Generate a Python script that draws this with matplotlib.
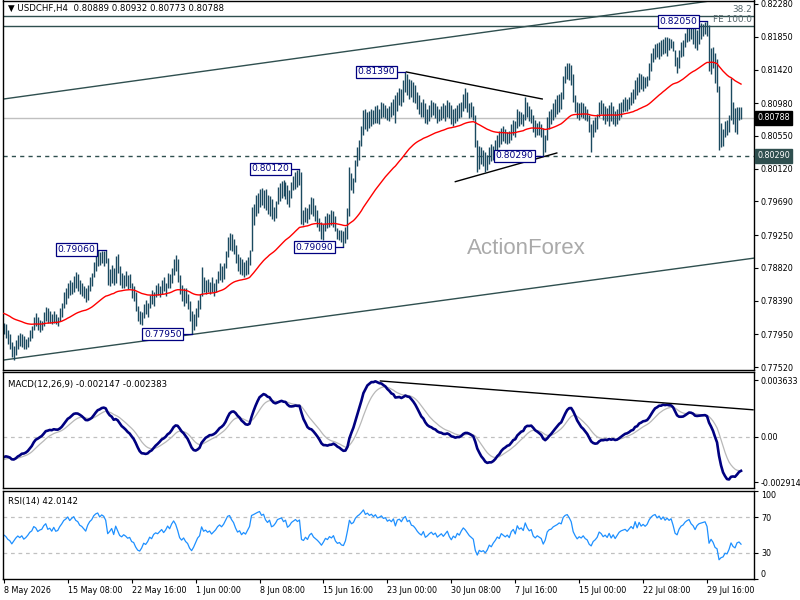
import numpy as np
import matplotlib
matplotlib.use('Agg')
import matplotlib.pyplot as plt

plt.rcParams['font.family'] = ['DejaVu Sans']
plt.rcParams['font.size'] = 6

# H4 bars, prices in 1/10000 (pips)
highs = [
    7810, 7808, 7800, 7795, 7785, 7780, 7788, 7794, 7797, 7795,
    7793, 7789, 7792, 7801, 7806, 7818, 7823, 7818, 7814, 7812,
    7824, 7831, 7829, 7825, 7822, 7826, 7821, 7818, 7830, 7836,
    7850, 7855, 7862, 7866, 7864, 7871, 7877, 7874, 7866, 7862,
    7858, 7855, 7860, 7870, 7875, 7890, 7899, 7905, 7903, 7904,
    7904, 7906, 7895, 7880, 7886, 7882, 7898, 7900, 7884, 7875,
    7872, 7878, 7872, 7874, 7862, 7858, 7850, 7832, 7826, 7824,
    7834, 7840, 7836, 7846, 7853, 7850, 7860, 7862, 7858, 7866,
    7870, 7862, 7875, 7874, 7882, 7893, 7899, 7894, 7872, 7860,
    7855, 7856, 7848, 7838, 7826, 7822, 7830, 7840, 7848, 7883,
    7870, 7866, 7868, 7864, 7870, 7862, 7868, 7878, 7889, 7884,
    7888, 7904, 7922, 7928, 7926, 7920, 7912, 7900, 7896, 7894,
    7890, 7892, 7896, 7906, 7962, 7966, 7978, 7980, 7986, 7987,
    7984, 7985, 7978, 7976, 7972, 7962, 7970, 7988, 7993, 7996,
    7997, 7994, 7990, 7984, 7994, 8002, 8008, 8010, 8012, 8008,
    7958, 7962, 7960, 7966, 7975, 7974, 7964, 7958, 7948, 7942,
    7940, 7950, 7954, 7952, 7958, 7956, 7950, 7934, 7932, 7932,
    7930, 7936, 7960, 8014, 8006, 8000, 8024, 8040, 8050, 8068,
    8089, 8090, 8086, 8088, 8090, 8089, 8094, 8096, 8090, 8100,
    8098, 8096, 8092, 8094, 8100, 8104, 8108, 8112, 8118, 8116,
    8128, 8139, 8136, 8130, 8128, 8126, 8122, 8112, 8108, 8100,
    8104, 8098, 8090, 8096, 8102, 8100, 8098, 8094, 8090, 8094,
    8098, 8096, 8102, 8100, 8096, 8090, 8092, 8096, 8098, 8100,
    8110, 8118, 8112, 8098, 8100, 8094, 8082, 8050, 8042, 8040,
    8036, 8034, 8030, 8040, 8044, 8042, 8050, 8056, 8062, 8066,
    8068, 8064, 8060, 8062, 8070, 8076, 8074, 8090, 8088, 8086,
    8084, 8106, 8100, 8094, 8090, 8082, 8076, 8072, 8074, 8070,
    8066, 8056, 8080, 8088, 8090, 8098, 8104, 8108, 8110, 8112,
    8134, 8146, 8151, 8150, 8148, 8136, 8108, 8100, 8098, 8100,
    8098, 8094, 8090, 8082, 8070, 8076, 8080, 8084, 8100, 8102,
    8098, 8094, 8092, 8096, 8100, 8094, 8088, 8090, 8098, 8100,
    8104, 8106, 8104, 8106, 8112, 8116, 8128, 8132, 8138, 8136,
    8134, 8132, 8134, 8150, 8164, 8170, 8176, 8177, 8178, 8181,
    8182, 8185, 8184, 8183, 8182, 8180, 8168, 8158, 8168, 8178,
    8181, 8190, 8198, 8200, 8203, 8198, 8196, 8194, 8200, 8203,
    8202, 8204, 8205, 8200, 8170, 8172, 8164, 8156, 8120, 8072,
    8064, 8074, 8076, 8082, 8131, 8100, 8092, 8093, 8093, 8093,
]
lows = [
    7795, 7790, 7782, 7775, 7765, 7761, 7768, 7776, 7780, 7778,
    7776, 7775, 7778, 7786, 7790, 7800, 7806, 7800, 7798, 7800,
    7806, 7812, 7810, 7810, 7808, 7810, 7809, 7806, 7812, 7818,
    7830, 7835, 7842, 7846, 7848, 7850, 7856, 7852, 7848, 7845,
    7842, 7837, 7840, 7852, 7858, 7870, 7878, 7885, 7886, 7888,
    7885, 7888, 7860, 7858, 7862, 7860, 7862, 7875, 7860, 7856,
    7855, 7858, 7854, 7855, 7842, 7838, 7826, 7812, 7808, 7807,
    7816, 7822, 7818, 7830, 7834, 7832, 7844, 7846, 7844, 7848,
    7852, 7845, 7855, 7856, 7862, 7872, 7878, 7864, 7848, 7838,
    7832, 7836, 7828, 7812, 7795, 7800, 7806, 7818, 7828, 7845,
    7850, 7848, 7850, 7848, 7850, 7845, 7850, 7862, 7866, 7864,
    7868, 7882, 7896, 7905, 7904, 7900, 7888, 7878, 7874, 7872,
    7870, 7872, 7874, 7886, 7904, 7938, 7950, 7954, 7962, 7964,
    7960, 7958, 7952, 7950, 7946, 7944, 7948, 7966, 7970, 7974,
    7976, 7972, 7966, 7962, 7974, 7984, 7986, 7988, 7990, 7940,
    7938, 7942, 7941, 7946, 7952, 7950, 7944, 7936, 7930, 7920,
    7919, 7930, 7934, 7936, 7938, 7936, 7930, 7920, 7919, 7916,
    7909, 7914, 7920, 7950, 7984, 7980, 7994, 8016, 8024, 8042,
    8056, 8064, 8062, 8066, 8068, 8070, 8072, 8072, 8070, 8078,
    8080, 8078, 8076, 8074, 8080, 8082, 8072, 8088, 8096, 8094,
    8100, 8112, 8108, 8104, 8106, 8100, 8098, 8090, 8084, 8080,
    8080, 8072, 8070, 8074, 8080, 8082, 8078, 8072, 8074, 8076,
    8078, 8074, 8080, 8078, 8070, 8068, 8072, 8074, 8078, 8080,
    8088, 8092, 8086, 8078, 8080, 8076, 8040, 8008, 8012, 8018,
    8016, 8008, 8010, 8018, 8022, 8024, 8030, 8034, 8040, 8044,
    8048, 8046, 8044, 8046, 8050, 8056, 8054, 8066, 8068, 8070,
    8068, 8076, 8080, 8074, 8072, 8060, 8054, 8056, 8056, 8054,
    8029, 8034, 8050, 8064, 8070, 8076, 8080, 8084, 8086, 8090,
    8104, 8124, 8130, 8128, 8122, 8100, 8086, 8078, 8076, 8080,
    8078, 8076, 8074, 8060, 8034, 8054, 8060, 8064, 8080, 8084,
    8076, 8070, 8074, 8068, 8074, 8070, 8068, 8070, 8076, 8080,
    8086, 8088, 8088, 8090, 8096, 8098, 8104, 8108, 8112, 8116,
    8114, 8118, 8120, 8128, 8140, 8152, 8156, 8158, 8156, 8160,
    8162, 8164, 8160, 8168, 8170, 8166, 8146, 8138, 8144, 8158,
    8160, 8172, 8178, 8180, 8182, 8176, 8170, 8168, 8176, 8182,
    8186, 8188, 8186, 8140, 8136, 8144, 8124, 8112, 8037, 8040,
    8042, 8054, 8056, 8060, 8076, 8070, 8060, 8058, 8076, 8077,
]
closes = [
    7800, 7795, 7785, 7780, 7768, 7776, 7784, 7790, 7785, 7790,
    7780, 7784, 7790, 7798, 7802, 7815, 7812, 7804, 7808, 7810,
    7820, 7826, 7815, 7818, 7812, 7822, 7814, 7816, 7826, 7834,
    7845, 7850, 7858, 7852, 7860, 7866, 7860, 7858, 7852, 7850,
    7846, 7842, 7856, 7866, 7872, 7886, 7894, 7898, 7892, 7900,
    7898, 7892, 7866, 7872, 7880, 7866, 7892, 7880, 7866, 7862,
    7868, 7864, 7858, 7860, 7848, 7845, 7830, 7818, 7814, 7820,
    7830, 7826, 7832, 7842, 7838, 7848, 7852, 7850, 7855, 7860,
    7854, 7860, 7870, 7865, 7878, 7888, 7882, 7870, 7852, 7845,
    7850, 7840, 7834, 7818, 7808, 7815, 7825, 7836, 7842, 7870,
    7858, 7862, 7856, 7860, 7852, 7858, 7864, 7874, 7880, 7876,
    7884, 7898, 7916, 7920, 7912, 7906, 7894, 7884, 7888, 7878,
    7884, 7880, 7890, 7902, 7952, 7958, 7965, 7972, 7978, 7970,
    7976, 7964, 7958, 7968, 7952, 7956, 7966, 7982, 7986, 7990,
    7982, 7988, 7972, 7978, 7990, 7996, 8002, 7998, 8004, 7950,
    7946, 7956, 7948, 7962, 7968, 7956, 7950, 7944, 7936, 7926,
    7934, 7944, 7940, 7948, 7944, 7950, 7934, 7926, 7928, 7920,
    7918, 7928, 7954, 8000, 7990, 7996, 8020, 8034, 8044, 8060,
    8082, 8070, 8080, 8074, 8082, 8076, 8088, 8080, 8084, 8092,
    8086, 8090, 8082, 8088, 8084, 8096, 8080, 8106, 8110, 8104,
    8122, 8130, 8118, 8124, 8112, 8110, 8104, 8096, 8090, 8086,
    8096, 8080, 8084, 8090, 8094, 8088, 8092, 8082, 8086, 8090,
    8084, 8090, 8096, 8084, 8076, 8084, 8080, 8090, 8086, 8096,
    8104, 8100, 8094, 8088, 8084, 8080, 8046, 8024, 8034, 8028,
    8030, 8020, 8026, 8036, 8030, 8038, 8044, 8052, 8048, 8060,
    8056, 8052, 8056, 8050, 8064, 8070, 8060, 8084, 8076, 8080,
    8074, 8100, 8088, 8080, 8084, 8066, 8060, 8066, 8062, 8058,
    8040, 8050, 8074, 8082, 8084, 8092, 8096, 8100, 8106, 8104,
    8130, 8140, 8144, 8138, 8130, 8106, 8094, 8084, 8090, 8086,
    8092, 8084, 8080, 8066, 8060, 8070, 8074, 8080, 8094, 8090,
    8082, 8086, 8080, 8090, 8078, 8086, 8076, 8084, 8092, 8096,
    8098, 8100, 8096, 8102, 8108, 8104, 8124, 8112, 8130, 8122,
    8128, 8124, 8130, 8146, 8158, 8166, 8170, 8164, 8172, 8166,
    8176, 8170, 8178, 8174, 8180, 8168, 8150, 8146, 8162, 8172,
    8176, 8186, 8192, 8196, 8188, 8184, 8176, 8188, 8194, 8196,
    8198, 8200, 8192, 8150, 8160, 8150, 8130, 8124, 8050, 8056,
    8058, 8068, 8064, 8076, 8096, 8078, 8070, 8086, 8089, 8079,
]

# indicator values at the left edge
ma_start = 0.7823
ema12_start = 0.7801
ema26_start = 0.7815
signal_start = -0.0015
rsi_gain_start = 0.0006
rsi_loss_start = 0.0006

price_ticks = [0.82280, 0.81850, 0.81420, 0.80980, 0.80550, 0.80120,
               0.79690, 0.79250, 0.78820, 0.78390, 0.77950, 0.77520]
date_labels = ["8 May 2026", "15 May 08:00", "22 May 16:00", "1 Jun 00:00",
               "8 Jun 08:00", "15 Jun 16:00", "23 Jun 00:00", "30 Jun 08:00",
               "7 Jul 16:00", "15 Jul 00:00", "22 Jul 08:00", "29 Jul 16:00"]
date_bars = [0, 32, 64, 96, 128, 160, 192, 224, 256, 288, 320, 352]

# swing labels (bar, price)
swing_labels = [(51, 0.79060), (94, 0.77950), (148, 0.80120), (170, 0.79090),
                (201, 0.81390), (270, 0.80290), (352, 0.82050)]
channel_upper = [(0, 0.81034), (348, 0.82299)]
channel_lower = [(0, 0.77612), (375, 0.78946)]
tri_upper = [(201.5, 0.81388), (269.5, 0.81034)]
tri_lower = [(226, 0.79950), (276.8, 0.80326)]
fib_382 = 0.82122
fe_100 = 0.81991
support = 0.80290
last_price = 0.80788
macd_trend = [(188.5, 0.003572), (375, 0.001726)]
macd_ticks = [0.003633, 0.0, -0.002914]


def ema(values, n, seed):
    a = 2.0 / (n + 1)
    out = []
    prev = seed
    for v in values:
        prev = prev + a * (v - prev)
        out.append(prev)
    return np.array(out)


def rsi(values, n, g0, l0):
    out = []
    ag, al = g0, l0
    prev = values[0]
    for v in values:
        d = v - prev
        prev = v
        ag = (ag * (n - 1) + max(d, 0)) / n
        al = (al * (n - 1) + max(-d, 0)) / n
        out.append(100 - 100 / (1 + ag / al))
    return np.array(out)


hi = np.array(highs) / 1e4
lo = np.array(lows) / 1e4
cl = np.array(closes) / 1e4
idx = np.arange(len(cl))

ma = ema(cl, 55, ma_start)
macd = ema(cl, 12, ema12_start) - ema(cl, 26, ema26_start)
signal = ema(macd, 9, signal_start)
rsi14 = rsi(cl, 14, rsi_gain_start, rsi_loss_start)

BAR = '#1b4a60'
SLATE = '#2f4f4f'
NAVY = '#000080'
TICK_FS = 5.8

fig = plt.figure(figsize=(8, 6), dpi=100)
W, H = 800.0, 600.0


def panel(top, bottom):
    return fig.add_axes([3 / W, 1 - bottom / H, 751 / W, (bottom - top) / H])


ax = panel(0.5, 370)
axm = panel(372, 488)
axr = panel(491, 579)
xlim = (-0.4, 375.5)

for a in (ax, axm, axr):
    a.set_xlim(*xlim)
    a.yaxis.tick_right()
    a.tick_params(axis='y', direction='out', length=3, pad=2, labelsize=TICK_FS, width=0.8)
    a.tick_params(axis='x', length=0)
    for s in a.spines.values():
        s.set_linewidth(1.0)
        s.set_color('black')
    a.set_facecolor('white')

# ---- main price panel
ax.set_ylim(0.77481, 0.82325)
ax.axhline(last_price, color='#c0c0c0', lw=1.0, zorder=1)
ax.axhline(support, color=SLATE, lw=1.0, ls=(0, (3, 3)), zorder=1)
ax.axhline(fib_382, color=SLATE, lw=1.0, zorder=1)
ax.axhline(fe_100, color=SLATE, lw=1.0, zorder=1)
ax.axline(channel_upper[0], channel_upper[1], color=SLATE, lw=1.0, zorder=1)
ax.axline(channel_lower[0], channel_lower[1], color=SLATE, lw=1.0, zorder=1)
ax.plot(*zip(*tri_upper), color='black', lw=1.0, zorder=1)
ax.plot(*zip(*tri_lower), color='black', lw=1.0, zorder=1)

ax.vlines(idx, lo, hi, color=BAR, lw=1.0, zorder=2)
ax.plot(idx, ma, color='#ff0000', lw=1.0, zorder=3)

ax.text(0.697, 0.33, 'ActionForex', transform=ax.transAxes, ha='center', va='center',
        fontsize=16, color='#aaaaaa', family='Liberation Sans', zorder=0)

for b, p in swing_labels:
    ax.plot([b - 5, b], [p, p], color=NAVY, lw=0.9, zorder=4)
    ax.text(b - 5, p, '%.5f' % p, ha='right', va='center', color=NAVY, fontsize=6.6,
            zorder=5, bbox=dict(boxstyle='square,pad=0.18', fc='white', ec=NAVY, lw=0.9))

ax.text(0.997, fib_382 + 0.0003, '38.2', transform=ax.get_yaxis_transform(),
        ha='right', va='bottom', color='#55666c', fontsize=6.4)
ax.text(0.997, fe_100 + 0.0003, 'FE 100.0', transform=ax.get_yaxis_transform(),
        ha='right', va='bottom', color='#55666c', fontsize=6.4)

ax.set_yticks(price_ticks)
ax.set_yticklabels(['%.5f' % t for t in price_ticks])
ax.set_xticks([])
ax.text(1.004, last_price, '%.5f' % last_price, transform=ax.get_yaxis_transform(),
        ha='left', va='center', color='white', fontsize=TICK_FS, zorder=6,
        bbox=dict(boxstyle='square,pad=0.3', fc='black', ec='black'), clip_on=False)
ax.text(1.004, support, '%.5f' % support, transform=ax.get_yaxis_transform(),
        ha='left', va='center', color='white', fontsize=TICK_FS, zorder=6,
        bbox=dict(boxstyle='square,pad=0.3', fc=SLATE, ec=SLATE), clip_on=False)
ax.text(0.006, 0.992, '\u25bc USDCHF,H4  0.80889 0.80932 0.80773 0.80788',
        transform=ax.transAxes, ha='left', va='top', fontsize=6.2, color='black')

# ---- MACD panel
axm.set_ylim(-0.003279, 0.004145)
axm.axhline(0, color='#c0c0c0', lw=0.9, ls=(0, (3, 3)))
axm.plot(idx, signal, color='#b8b8b8', lw=0.9)
axm.plot(idx, macd, color=NAVY, lw=1.9)
axm.plot(*zip(*macd_trend), color='black', lw=1.0)
axm.set_yticks(macd_ticks)
axm.set_yticklabels(['0.003633', '0.00', '-0.002914'])
axm.set_xticks([])
axm.text(0.006, 0.93, 'MACD(12,26,9) -0.002147 -0.002383', transform=axm.transAxes,
         ha='left', va='top', fontsize=6.2)

# ---- RSI panel
axr.set_ylim(0, 100)
axr.axhline(70, color='#c0c0c0', lw=0.9, ls=(0, (3, 3)))
axr.axhline(30, color='#c0c0c0', lw=0.9, ls=(0, (3, 3)))
axr.plot(idx, rsi14, color='#1e90ff', lw=0.9)
axr.set_yticks([100, 70, 30, 0])
axr.set_yticklabels(['100', '70', '30', '0'])
ylabs = axr.get_yticklabels()
ylabs[0].set_verticalalignment('top')
ylabs[3].set_verticalalignment('bottom')
axr.text(0.006, 0.93, 'RSI(14) 42.0142', transform=axr.transAxes,
         ha='left', va='top', fontsize=6.2)
axr.set_xticks(date_bars)
axr.set_xticklabels(date_labels, ha='left')
axr.tick_params(axis='x', direction='out', length=3, pad=2, labelsize=TICK_FS)

fig.savefig('out.png', dpi=100, facecolor='white')
